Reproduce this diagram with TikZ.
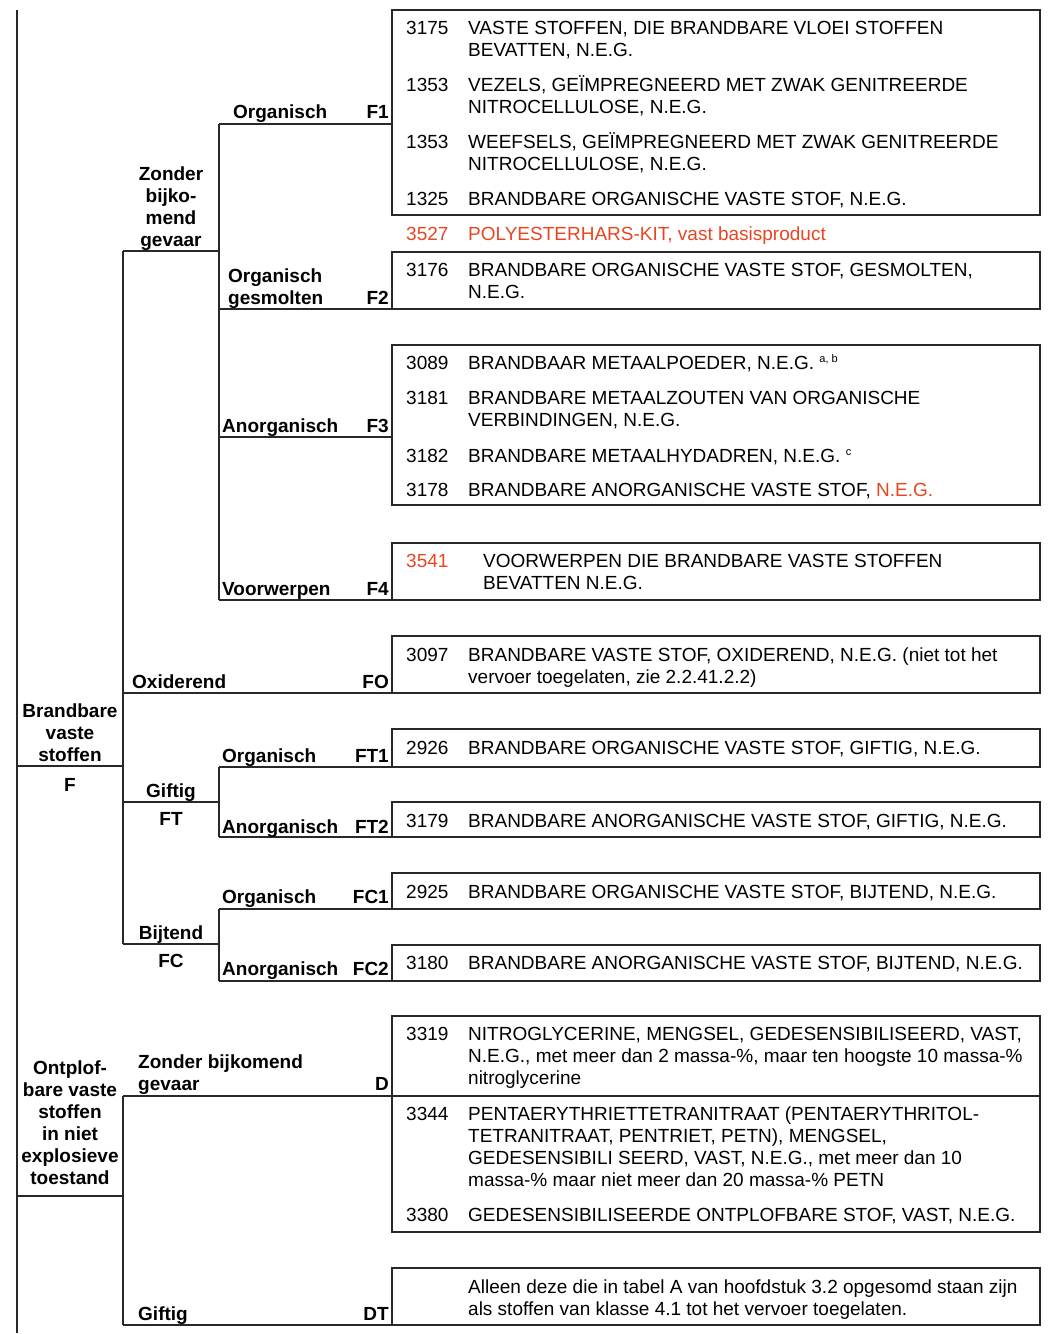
\documentclass[tikz,border=0pt]{standalone}
\usepackage{fontspec}
\setmainfont{Liberation Sans}
\definecolor{redt}{RGB}{232,70,35}
\definecolor{lncol}{RGB}{40,40,40}
\newcommand{\supx}[1]{\raisebox{6.5pt}{\fontsize{11}{11}\selectfont #1}}
\begin{document}
\begin{tikzpicture}[x=1pt,y=-1pt,
  ln/.style={draw=lncol, line width=1.2pt},
  bx/.style={draw=lncol, line width=1.2pt},
  lab/.style={font=\fontsize{19}{22}\selectfont\bfseries, inner sep=0pt},
  labw/.style={lab, anchor=base west, align=left},
  labe/.style={lab, anchor=base east},
  labc/.style={lab, anchor=base, align=center},
  num/.style={font=\fontsize{19}{22}\selectfont, inner sep=0pt, anchor=base west},
  txt/.style={font=\fontsize{19}{22}\selectfont, inner sep=0pt, anchor=base west, align=left},
  rd/.style={text=redt}
]
\useasboundingbox[fill=white] (0,0) rectangle (1049,1334);

% ---------- tree coordinates ----------
\coordinate (Ltop) at (17,10);
\coordinate (Lbot) at (17,1333);
\coordinate (Fl) at (17,766);
\coordinate (Fr) at (123,766);
\coordinate (Vt) at (123,251);
\coordinate (Vb) at (123,944);
\coordinate (Zr) at (219,251);
\coordinate (Wt) at (219,124);
\coordinate (Wb) at (219,600);
\coordinate (F1e) at (392,124);
\coordinate (F2s) at (219,309);
\coordinate (F2e) at (392,309);
\coordinate (F3s) at (219,437);
\coordinate (F3e) at (392,437);
\coordinate (F4e) at (392,600);
\coordinate (FOs) at (123,693);
\coordinate (FOe) at (392,693);
\coordinate (FTs) at (123,802);
\coordinate (FTj) at (219,802);
\coordinate (FT1s) at (219,767);
\coordinate (FT1e) at (392,767);
\coordinate (FT2s) at (219,837);
\coordinate (FT2e) at (392,837);
\coordinate (FCj) at (219,944);
\coordinate (FC1s) at (219,909);
\coordinate (FC1e) at (392,909);
\coordinate (FC2s) at (219,981);
\coordinate (FC2e) at (392,981);
\coordinate (Dl) at (17,1196);
\coordinate (Dr) at (123,1196);
\coordinate (Dt) at (123,1096);
\coordinate (Db) at (123,1325);
\coordinate (De) at (1040,1096);
\coordinate (DTe) at (392,1325);

% ---------- tree lines ----------
\draw[ln] (Ltop) -- (Lbot);
\draw[ln] (Fl) -- (Fr);
\draw[ln] (Vt) -- (Vb);
\draw[ln] (Vt) -- (Zr);
\draw[ln] (Wt) -- (Wb);
\draw[ln] (Wt) -- (F1e);
\draw[ln] (F2s) -- (F2e);
\draw[ln] (F3s) -- (F3e);
\draw[ln] (Wb) -- (F4e);
\draw[ln] (FOs) -- (FOe);
\draw[ln] (FTs) -- (FTj);
\draw[ln] (FT1s) -- (FT2s);
\draw[ln] (FT1s) -- (FT1e);
\draw[ln] (FT2s) -- (FT2e);
\draw[ln] (Vb) -- (FCj);
\draw[ln] (FC1s) -- (FC2s);
\draw[ln] (FC1s) -- (FC1e);
\draw[ln] (FC2s) -- (FC2e);
\draw[ln] (Dl) -- (Dr);
\draw[ln] (Dt) -- (Db);
\draw[ln] (Dt) -- (De);
\draw[ln] (Db) -- (DTe);

% ---------- boxes ----------
\draw[bx] (392,10) rectangle (1040,215);
\draw[bx] (392,252) rectangle (1040,309);
\draw[bx] (392,345) rectangle (1040,505);
\draw[bx] (392,543) rectangle (1040,600);
\draw[bx] (392,636) rectangle (1040,693);
\draw[bx] (392,729) rectangle (1040,767);
\draw[bx] (392,802) rectangle (1040,837);
\draw[bx] (392,873) rectangle (1040,909);
\draw[bx] (392,945) rectangle (1040,981);
\draw[bx] (392,1016) rectangle (1040,1232);
\draw[bx] (392,1268) rectangle (1040,1325);

% ---------- left labels (base = last line) ----------
\node[labc] (lF) at (70,761) {Brandbare\\vaste\\stoffen};
\node[labc] (lFc) at (70,791) {F};
\node[labc] (lZ) at (171,246) {Zonder\\bijko-\\mend\\gevaar};
\node[labw] (lO1) at (233,118) {Organisch};
\node[labe] (cF1) at (389,118) {F1};
\node[labw] (lO2) at (228,304) {Organisch\\gesmolten};
\node[labe] (cF2) at (389,304) {F2};
\node[labw] (lA3) at (222,432) {Anorganisch};
\node[labe] (cF3) at (389,432) {F3};
\node[labw] (lV4) at (222,595) {Voorwerpen};
\node[labe] (cF4) at (389,595) {F4};
\node[labw] (lOx) at (132,688) {Oxiderend};
\node[labe] (cFO) at (389,688) {FO};
\node[labc] (lG) at (171,797) {Giftig};
\node[labc] (lGc) at (171,825) {FT};
\node[labw] (lOT1) at (222,762) {Organisch};
\node[labe] (cFT1) at (389,762) {FT1};
\node[labw] (lAT2) at (222,833) {Anorganisch};
\node[labe] (cFT2) at (389,833) {FT2};
\node[labc] (lB) at (171,939) {Bijtend};
\node[labc] (lBc) at (171,967) {FC};
\node[labw] (lOC1) at (222,903) {Organisch};
\node[labe] (cFC1) at (389,903) {FC1};
\node[labw] (lAC2) at (222,975) {Anorganisch};
\node[labe] (cFC2) at (389,975) {FC2};
\node[labc] (lD) at (70,1184) {Ontplof-\\bare vaste\\stoffen\\in niet\\explosieve\\toestand};
\node[labw] (lZD) at (138,1090) {Zonder bijkomend\\gevaar};
\node[labe] (cD) at (389,1090) {D};
\node[labw] (lGD) at (138,1320) {Giftig};
\node[labe] (cDT) at (389,1320) {DT};

% ---------- box entries (multi-line: base = last line) ----------
\node[num] (n1) at (406,34) {3175};
\node[txt] (t1) at (468,56) {VASTE STOFFEN, DIE BRANDBARE VLOEI STOFFEN\\BEVATTEN, N.E.G.};
\node[num] (n2) at (406,91) {1353};
\node[txt] (t2) at (468,113) {VEZELS, GEÏMPREGNEERD MET ZWAK GENITREERDE\\NITROCELLULOSE, N.E.G.};
\node[num] (n3) at (406,148) {1353};
\node[txt] (t3) at (468,170) {WEEFSELS, GEÏMPREGNEERD MET ZWAK GENITREERDE\\NITROCELLULOSE, N.E.G.};
\node[num] (n4) at (406,205) {1325};
\node[txt] (t4) at (468,205) {BRANDBARE ORGANISCHE VASTE STOF, N.E.G.};
\node[num,rd] (n5) at (406,240) {3527};
\node[txt,rd] (t5) at (468,240) {POLYESTERHARS-KIT, vast basisproduct};
\node[num] (n6) at (406,276) {3176};
\node[txt] (t6) at (468,298) {BRANDBARE ORGANISCHE VASTE STOF, GESMOLTEN,\\N.E.G.};
\node[num] (n7) at (406,369) {3089};
\node[txt] (t7) at (468,369) {BRANDBAAR METAALPOEDER, N.E.G. \supx{a, b}};
\node[num] (n8) at (406,404) {3181};
\node[txt] (t8) at (468,426) {BRANDBARE METAALZOUTEN VAN ORGANISCHE\\VERBINDINGEN, N.E.G.};
\node[num] (n9) at (406,462) {3182};
\node[txt] (t9) at (468,462) {BRANDBARE METAALHYDADREN, N.E.G. \supx{c}};
\node[num] (n10) at (406,496) {3178};
\node[txt] (t10) at (468,496) {BRANDBARE ANORGANISCHE VASTE STOF, \textcolor{redt}{N.E.G.}};
\node[num,rd] (n11) at (406,567) {3541};
\node[txt] (t11) at (483,589) {VOORWERPEN DIE BRANDBARE VASTE STOFFEN\\BEVATTEN N.E.G.};
\node[num] (n12) at (406,661) {3097};
\node[txt] (t12) at (468,683) {BRANDBARE VASTE STOF, OXIDEREND, N.E.G. (niet tot het\\vervoer toegelaten, zie 2.2.41.2.2)};
\node[num] (n13) at (406,754) {2926};
\node[txt] (t13) at (468,754) {BRANDBARE ORGANISCHE VASTE STOF, GIFTIG, N.E.G.};
\node[num] (n14) at (406,827) {3179};
\node[txt] (t14) at (468,827) {BRANDBARE ANORGANISCHE VASTE STOF, GIFTIG, N.E.G.};
\node[num] (n15) at (406,898) {2925};
\node[txt] (t15) at (468,898) {BRANDBARE ORGANISCHE VASTE STOF, BIJTEND, N.E.G.};
\node[num] (n16) at (406,969) {3180};
\node[txt] (t16) at (468,969) {BRANDBARE ANORGANISCHE VASTE STOF, BIJTEND, N.E.G.};
\node[num] (n17) at (406,1040) {3319};
\node[txt] (t17) at (468,1084) {NITROGLYCERINE, MENGSEL, GEDESENSIBILISEERD, VAST,\\N.E.G., met meer dan 2 massa-\%, maar ten hoogste 10 massa-\%\\nitroglycerine};
\node[num] (n18) at (406,1120) {3344};
\node[txt] (t18) at (468,1186) {PENTAERYTHRIETTETRANITRAAT (PENTAERYTHRITOL-\\TETRANITRAAT, PENTRIET, PETN), MENGSEL,\\GEDESENSIBILI SEERD, VAST, N.E.G., met meer dan 10\\massa-\% maar niet meer dan 20 massa-\% PETN};
\node[num] (n19) at (406,1221) {3380};
\node[txt] (t19) at (468,1221) {GEDESENSIBILISEERDE ONTPLOFBARE STOF, VAST, N.E.G.};
\node[txt] (t20) at (468,1315) {Alleen deze die in tabel A van hoofdstuk 3.2 opgesomd staan zijn\\als stoffen van klasse 4.1 tot het vervoer toegelaten.};
\end{tikzpicture}
\end{document}
